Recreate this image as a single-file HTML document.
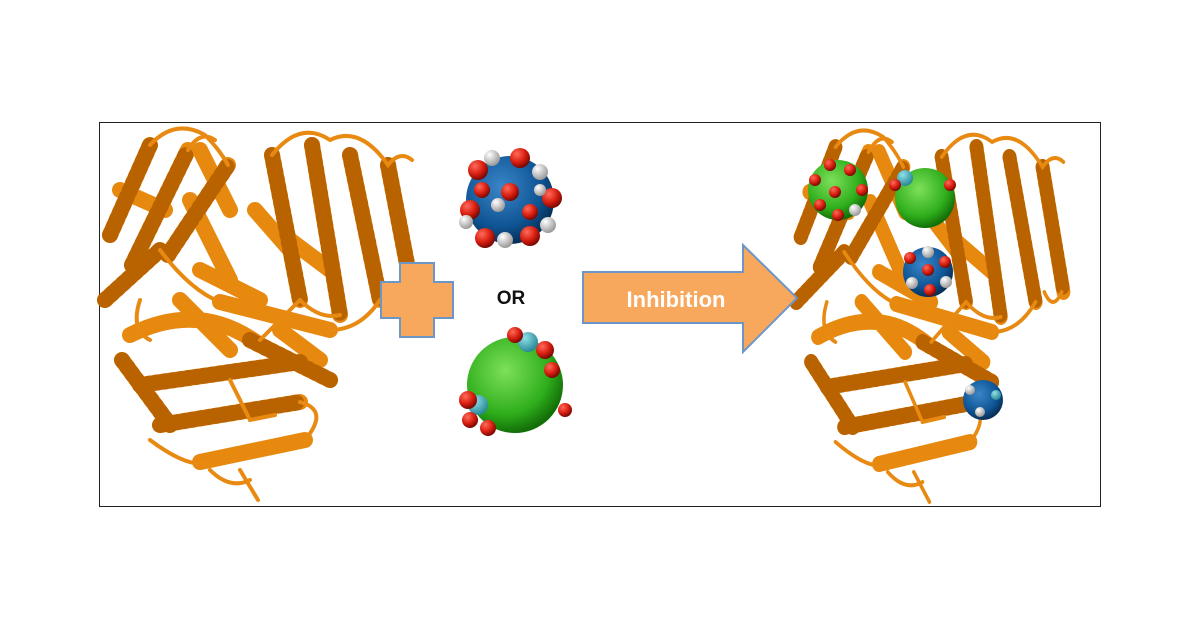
<!DOCTYPE html>
<html><head><meta charset="utf-8"><style>
html,body{margin:0;padding:0;background:#fff;}
body{width:1200px;height:628px;position:relative;overflow:hidden;font-family:"Liberation Sans",sans-serif;}
</style></head><body>
<svg width="1200" height="628" viewBox="0 0 1200 628" style="position:absolute;left:0;top:0">
<defs>
<radialGradient id="gb" cx="40%" cy="35%" r="65%"><stop offset="0" stop-color="#3a86c8"/><stop offset="0.7" stop-color="#0f5494"/><stop offset="1" stop-color="#063058"/></radialGradient>
<radialGradient id="gg" cx="40%" cy="35%" r="65%"><stop offset="0" stop-color="#7de05a"/><stop offset="0.7" stop-color="#2fae1c"/><stop offset="1" stop-color="#137008"/></radialGradient>
<radialGradient id="gr" cx="35%" cy="30%" r="70%"><stop offset="0" stop-color="#ff6a5a"/><stop offset="0.6" stop-color="#d81e10"/><stop offset="1" stop-color="#7a0a04"/></radialGradient>
<radialGradient id="gw" cx="35%" cy="30%" r="70%"><stop offset="0" stop-color="#ffffff"/><stop offset="1" stop-color="#9a9a9a"/></radialGradient>
<radialGradient id="gc" cx="35%" cy="30%" r="70%"><stop offset="0" stop-color="#8fe0e8"/><stop offset="1" stop-color="#2a8a98"/></radialGradient>
<g id="prot" fill="none" stroke-linecap="round">
 <g stroke="#e8890f" stroke-width="16">
  <path d="M110,235 L150,145 M132,265 L188,150 M168,255 L228,165 M105,300 L160,250 M190,200 L230,280 M120,190 L165,210 M200,150 L230,210"/>
  <path d="M272,155 L300,300 M312,145 L340,315 M350,155 L380,300 M388,165 L412,290 M255,210 L290,250 M290,240 L330,270"/>
  <path d="M130,335 Q200,300 260,345 M140,385 L300,362 M160,425 L300,402 M200,462 L305,440 M220,302 L330,330 M122,360 L170,425 M250,340 L330,380 M180,300 L230,350 M200,270 L260,300 M280,330 L320,360"/>
 </g>
 <g stroke="#b86200" stroke-width="16" stroke-dasharray="2 6">
  <path d="M110,235 L150,145 M132,265 L188,150 M168,255 L228,165 M105,300 L160,250"/>
  <path d="M272,155 L300,300 M312,145 L340,315 M350,155 L380,300 M388,165 L412,290"/>
  <path d="M140,385 L300,362 M160,425 L300,402 M122,360 L170,425 M250,340 L330,380"/>
 </g>
 <g stroke="#e88a12" stroke-width="4">
  <path d="M150,145 Q175,118 205,135 Q220,150 228,165 M188,150 Q200,130 215,140"/>
  <path d="M272,155 Q300,120 330,140 Q360,125 388,165 Q400,150 412,160 M300,300 Q320,320 340,315"/>
  <path d="M160,250 Q190,290 220,302 M330,330 Q360,330 380,300 M300,402 Q330,410 305,440 M240,470 L258,500 M210,470 Q230,490 250,480 M260,340 Q280,320 300,300"/>
  <path d="M150,440 Q190,470 210,462 M230,380 L250,420 L275,415 M140,300 Q130,330 150,340 M390,290 Q400,310 410,290"/>
 </g>
</g>
</defs>
<rect x="99.5" y="122.5" width="1001" height="384" fill="none" stroke="#222" stroke-width="1"/>
<use href="#prot"/>
<g transform="translate(705,2) scale(0.87,1)"><use href="#prot"/></g>
<path d="M400,263 H434 V282 H453 V318 H434 V337 H400 V318 H381 V282 H400 Z" fill="#f8a85c" stroke="#6c96c8" stroke-width="2"/>
<text x="511" y="304" text-anchor="middle" font-size="19" font-weight="bold" fill="#111">OR</text>
<path d="M583,272 H743 V245 L797,298 L743,352 V323 H583 Z" fill="#f8a85c" stroke="#6c96c8" stroke-width="2"/>
<text x="676" y="307" text-anchor="middle" font-size="22" font-weight="bold" fill="#fff">Inhibition</text>
<g>
 <circle cx="510" cy="200" r="44" fill="url(#gb)"/>
 <circle cx="478" cy="170" r="10" fill="url(#gr)"/><circle cx="492" cy="158" r="8" fill="url(#gw)"/>
 <circle cx="520" cy="158" r="10" fill="url(#gr)"/><circle cx="540" cy="172" r="8" fill="url(#gw)"/>
 <circle cx="470" cy="210" r="10" fill="url(#gr)"/><circle cx="466" cy="222" r="7" fill="url(#gw)"/>
 <circle cx="485" cy="238" r="10" fill="url(#gr)"/><circle cx="505" cy="240" r="8" fill="url(#gw)"/>
 <circle cx="530" cy="236" r="10" fill="url(#gr)"/><circle cx="548" cy="225" r="8" fill="url(#gw)"/>
 <circle cx="552" cy="198" r="10" fill="url(#gr)"/><circle cx="510" cy="192" r="9" fill="url(#gr)"/>
 <circle cx="498" cy="205" r="7" fill="url(#gw)"/><circle cx="482" cy="190" r="8" fill="url(#gr)"/>
 <circle cx="530" cy="212" r="8" fill="url(#gr)"/><circle cx="540" cy="190" r="6" fill="url(#gw)"/>
</g>
<g>
 <circle cx="515" cy="385" r="48" fill="url(#gg)"/>
 <circle cx="528" cy="342" r="10" fill="url(#gc)"/><circle cx="545" cy="350" r="9" fill="url(#gr)"/>
 <circle cx="515" cy="335" r="8" fill="url(#gr)"/><circle cx="552" cy="370" r="8" fill="url(#gr)"/>
 <circle cx="478" cy="405" r="10" fill="url(#gc)"/><circle cx="468" cy="400" r="9" fill="url(#gr)"/>
 <circle cx="470" cy="420" r="8" fill="url(#gr)"/><circle cx="488" cy="428" r="8" fill="url(#gr)"/>
 <circle cx="565" cy="410" r="7" fill="url(#gr)"/>
</g>
<g>
 <circle cx="838" cy="190" r="30" fill="url(#gg)"/>
 <circle cx="815" cy="180" r="6" fill="url(#gr)"/><circle cx="830" cy="165" r="6" fill="url(#gr)"/><circle cx="850" cy="170" r="6" fill="url(#gr)"/>
 <circle cx="862" cy="190" r="6" fill="url(#gr)"/><circle cx="820" cy="205" r="6" fill="url(#gr)"/><circle cx="838" cy="215" r="6" fill="url(#gr)"/>
 <circle cx="855" cy="210" r="6" fill="url(#gw)"/><circle cx="835" cy="192" r="6" fill="url(#gr)"/>
 <circle cx="925" cy="198" r="30" fill="url(#gg)"/>
 <circle cx="905" cy="178" r="8" fill="url(#gc)"/><circle cx="895" cy="185" r="6" fill="url(#gr)"/><circle cx="950" cy="185" r="6" fill="url(#gr)"/>
 <circle cx="928" cy="272" r="25" fill="url(#gb)"/>
 <circle cx="910" cy="258" r="6" fill="url(#gr)"/><circle cx="928" cy="252" r="6" fill="url(#gw)"/><circle cx="945" cy="262" r="6" fill="url(#gr)"/>
 <circle cx="912" cy="283" r="6" fill="url(#gw)"/><circle cx="930" cy="290" r="6" fill="url(#gr)"/><circle cx="946" cy="282" r="6" fill="url(#gw)"/><circle cx="928" cy="270" r="6" fill="url(#gr)"/>
 <circle cx="983" cy="400" r="20" fill="url(#gb)"/>
 <circle cx="970" cy="390" r="5" fill="url(#gw)"/><circle cx="996" cy="395" r="5" fill="url(#gc)"/><circle cx="980" cy="412" r="5" fill="url(#gw)"/>
</g>
</svg>
</body></html>
